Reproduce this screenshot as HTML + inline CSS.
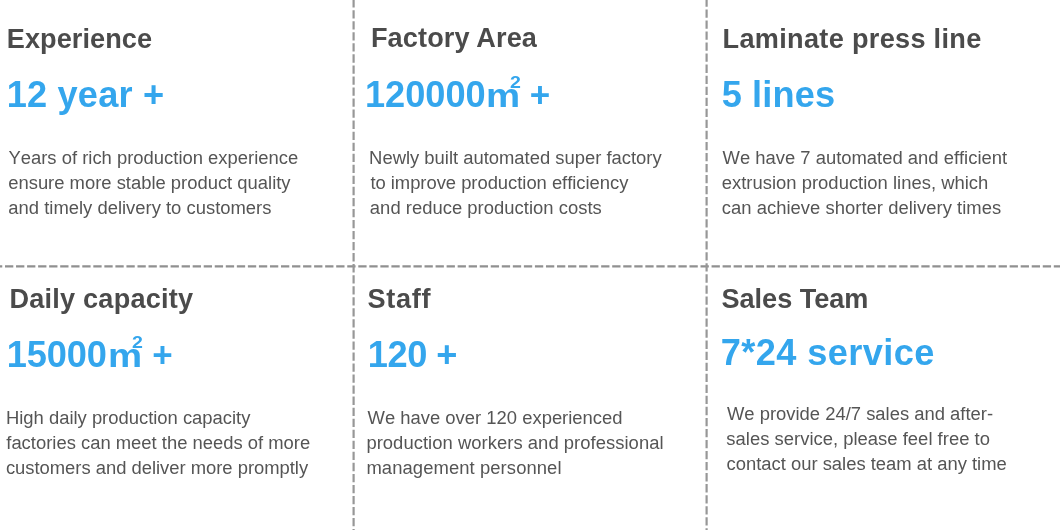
<!DOCTYPE html>
<html lang="en">
<head>
<meta charset="utf-8">
<title>Factory strength</title>
<style>
html,body{margin:0;padding:0;background:#fff;}
body{width:1060px;height:530px;position:relative;overflow:hidden;font-family:"Liberation Sans",Arial,Helvetica,sans-serif;}
h3,p{margin:0;font-size:inherit;font-weight:inherit;}
.t{position:absolute;display:block;white-space:nowrap;line-height:1;margin:0;padding:0;transform-origin:0 0;}
.h{font-weight:700;color:#4b4b4b;font-size:27.1px;}
.n{font-weight:700;color:#34a6ed;font-size:36.2px;}
.b{font-kerning:none;font-weight:400;color:#555;font-size:18.42px;line-height:25px;}
svg{position:absolute;left:0;top:0;}
</style>
</head>
<body>
<svg width="1060" height="530" viewBox="0 0 1060 530">
<g stroke="#909090" stroke-width="2.2" fill="none" stroke-dasharray="8.3 2.74">
<line x1="-6.04" y1="266.35" x2="1070" y2="266.35"/>
<line x1="353.6" y1="-0.84" x2="353.6" y2="540" stroke="#979797"/>
<line x1="706.6" y1="-1.64" x2="706.6" y2="540" stroke="#979797"/>
</g>
</svg>

<section class="card">
<h3 class="t h" style="left:6.79px;top:25.06px;letter-spacing:0.065px">Experience</h3>
<div class="num"><span class="t n" style="left:6.69px;top:77.36px;letter-spacing:0.186px">12 year +</span></div>
<p><span class="t b" style="left:8.46px;top:145.32px;letter-spacing:0.005px">Years of rich production experience</span> <span class="t b" style="left:8.22px;top:170.32px;letter-spacing:-0.002px">ensure more stable product quality</span> <span class="t b" style="left:8.32px;top:195.32px;letter-spacing:0.007px">and timely delivery to customers</span></p>
</section>
<section class="card">
<h3 class="t h" style="left:370.94px;top:23.96px;letter-spacing:0.122px">Factory Area</h3>
<div class="num"><span class="t n" style="left:364.94px;top:77.36px;letter-spacing:0.001px">120000</span><span class="t n" style="left:486.37px;top:79.92px;font-size:32.7px;transform:scaleX(1.175);">m</span><sup class="t n" style="left:509.92px;top:74.64px;font-size:15.9px;transform:scaleX(1.23);">2</sup><span class="t n" style="left:529.83px;top:76.77px;font-size:35.0px;">+</span></div>
<p><span class="t b" style="left:369.12px;top:145.32px;letter-spacing:-0.002px">Newly built automated super factory</span> <span class="t b" style="left:370.40px;top:170.32px;letter-spacing:-0.027px">to improve production efficiency</span> <span class="t b" style="left:369.87px;top:195.32px;letter-spacing:0.024px">and reduce production costs</span></p>
</section>
<section class="card">
<h3 class="t h" style="left:722.60px;top:25.06px;letter-spacing:0.315px">Laminate press line</h3>
<div class="num"><span class="t n" style="left:721.73px;top:77.38px;letter-spacing:0.109px">5 lines</span></div>
<p><span class="t b" style="left:722.55px;top:145.32px;letter-spacing:0.003px">We have 7 automated and efficient</span> <span class="t b" style="left:721.74px;top:170.32px;letter-spacing:0.018px">extrusion production lines, which</span> <span class="t b" style="left:721.74px;top:195.32px;letter-spacing:0.035px">can achieve shorter delivery times</span></p>
</section>
<section class="card">
<h3 class="t h" style="left:9.45px;top:284.86px;letter-spacing:0.224px">Daily capacity</h3>
<div class="num"><span class="t n" style="left:6.69px;top:337.36px;letter-spacing:-0.079px">15000</span><span class="t n" style="left:108.27px;top:339.92px;font-size:32.7px;transform:scaleX(1.175);">m</span><sup class="t n" style="left:131.82px;top:334.64px;font-size:15.9px;transform:scaleX(1.23);">2</sup><span class="t n" style="left:152.33px;top:336.77px;font-size:35.0px;">+</span></div>
<p><span class="t b" style="left:6.01px;top:405.32px;letter-spacing:-0.005px">High daily production capacity</span> <span class="t b" style="left:6.27px;top:430.32px;letter-spacing:0.001px">factories can meet the needs of more</span> <span class="t b" style="left:5.89px;top:455.32px;letter-spacing:-0.016px">customers and deliver more promptly</span></p>
</section>
<section class="card">
<h3 class="t h" style="left:367.44px;top:284.86px;letter-spacing:0.722px">Staff</h3>
<div class="num"><span class="t n" style="left:367.85px;top:337.36px;letter-spacing:-0.484px">120 +</span></div>
<p><span class="t b" style="left:367.55px;top:405.32px;letter-spacing:0.008px">We have over 120 experienced</span> <span class="t b" style="left:366.40px;top:430.32px;letter-spacing:0.043px">production workers and professional</span> <span class="t b" style="left:366.45px;top:455.32px;letter-spacing:0.089px">management personnel</span></p>
</section>
<section class="card">
<h3 class="t h" style="left:721.44px;top:284.86px;letter-spacing:-0.010px">Sales Team</h3>
<div class="num"><span class="t n" style="left:720.76px;top:335.26px;letter-spacing:0.388px">7*24 service</span></div>
<p><span class="t b" style="left:726.98px;top:400.92px;letter-spacing:0.001px">We provide 24/7 sales and after-</span> <span class="t b" style="left:726.34px;top:425.92px;letter-spacing:0.020px">sales service, please feel free to</span> <span class="t b" style="left:726.48px;top:450.92px;letter-spacing:-0.001px">contact our sales team at any time</span></p>
</section>
</body>
</html>
